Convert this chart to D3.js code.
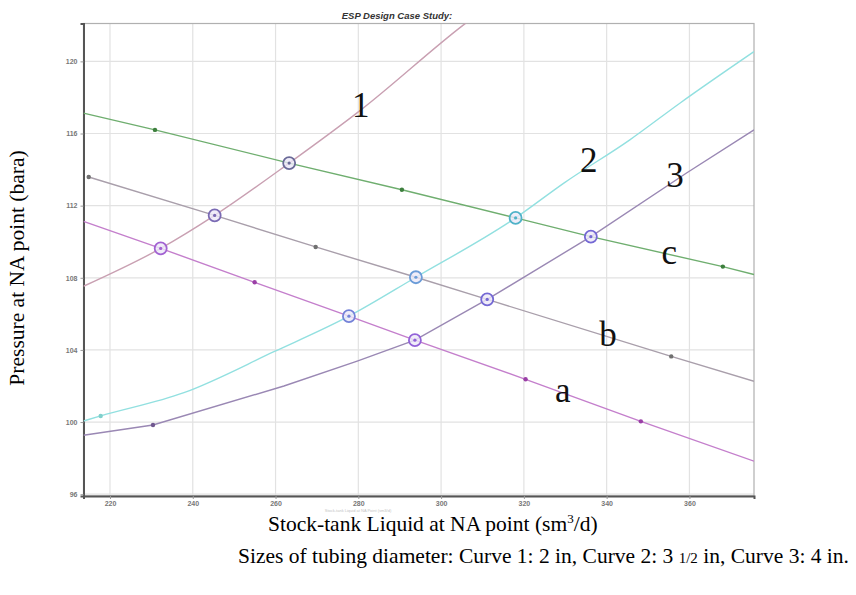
<!DOCTYPE html>
<html><head><meta charset="utf-8">
<script src="https://cdn.jsdelivr.net/npm/d3@7"></script>
<style>body{margin:0;background:#fff}svg{display:block}</style>
</head><body><svg id="c" width="856" height="595"></svg>
<script>
// ---- data (stock-tank liquid sm3/d, pressure bara) ----
const xTicks=[220,240,260,280,300,320,340,360];
const yTicks=[96,100,104,108,112,116,120];
const curve1Q=[213.6,232.25,245.29,263.29,280.63,305.34,308.2];
const curve1P=[107.53,109.63,111.46,114.36,117.31,122.01,122.51];
const curve2Q=[213.6,217.75,237.87,259.61,277.73,293.91,318.0,329.66,345.6,357.68,375.6];
const curve2P=[100.06,100.34,101.63,103.9,105.87,108.03,111.32,113.25,115.65,117.68,120.54];
const curve3Q=[213.6,230.39,262.03,279.73,293.67,311.14,336.18,359.3,375.6];
const curve3P=[99.27,99.84,102.0,103.38,104.54,106.80,110.28,113.81,116.20];
const lineAQ=[213.6,232.25,254.95,277.73,293.67,320.41,348.26,375.6];
const lineAP=[111.13,109.63,107.75,105.87,104.54,102.37,100.04,97.83];
const lineBQ=[214.86,245.29,269.69,293.91,311.14,355.6,375.6];
const lineBP=[113.59,111.46,109.71,108.03,106.80,103.64,102.26];
const lineCQ=[213.6,230.87,263.29,290.53,318.0,336.18,368.07,375.6];
const lineCP=[117.13,116.20,114.36,112.88,111.32,110.28,108.62,108.18];
const dotsAQ=[254.95,320.41,348.26], dotsAP=[107.75,102.37,100.04];
const dotsBQ=[214.86,269.69,355.6], dotsBP=[113.59,109.71,103.64];
const dotsCQ=[230.87,290.53,368.07], dotsCP=[116.20,112.88,108.62];
const dots2Q=[217.75], dots2P=[100.34];
const dots3Q=[230.39], dots3P=[99.84];
const interQ=[263.29,245.29,232.25,318.0,293.91,277.73,336.18,311.14,293.67];
const interP=[114.36,111.46,109.63,111.32,108.03,105.87,110.28,106.80,104.54];
const labelText=["1","2","3","a","b","c"];
const labelQ=[280.6,335.7,356.5,329.4,340.3,355.1];
const labelP=[116.92,113.88,113.05,101.10,104.19,108.79];
const titleText="ESP Design Case Study:";
const yTitle="Pressure at NA point (bara)";
const caption1="Sizes of tubing diameter: Curve 1: 2 in, Curve 2: 3 ";
const caption2=" in, Curve 3: 4 in.";

// ---- styles ----
const L=83.5,R=754,T=23.5,B=496;
const svg=d3.select("#c");
const x=d3.scaleLinear().domain([213.6,375.6]).range([L,R]);
const y=d3.scaleLinear().domain([95.9,122.1]).range([B,T]);

svg.append("defs").append("clipPath").attr("id","clip")
  .append("rect").attr("x",L).attr("y",T).attr("width",R-L).attr("height",B-T);

// grid
svg.append("g").selectAll("line").data(xTicks).join("line")
  .attr("x1",d=>x(d)).attr("x2",d=>x(d)).attr("y1",T).attr("y2",B)
  .attr("stroke","#e2e2e2").attr("stroke-width",1.2);
svg.append("g").selectAll("line").data(yTicks).join("line")
  .attr("y1",d=>y(d)).attr("y2",d=>y(d)).attr("x1",L).attr("x2",R)
  .attr("stroke","#e2e2e2").attr("stroke-width",1.2);

// frame
svg.append("rect").attr("x",L).attr("y",T).attr("width",R-L).attr("height",B-T)
  .attr("fill","none").attr("stroke","#b0b0b0").attr("stroke-width",1.2);

// axes
const ax=svg.append("g").attr("transform",`translate(0,${B})`)
  .call(d3.axisBottom(x).tickValues(xTicks).tickSize(3).tickFormat(d3.format("d")));
const ay=svg.append("g").attr("transform",`translate(${L},0)`)
  .call(d3.axisLeft(y).tickValues(yTicks).tickSize(3).tickFormat(d3.format("d")));
[ax,ay].forEach(g=>{
  g.select(".domain").attr("stroke","#555").attr("stroke-width",2);
  g.selectAll(".tick line").attr("stroke","#999");
  g.selectAll(".tick text").attr("fill","#777").attr("font-size",7)
   .attr("font-family","Liberation Sans, Arial, sans-serif").attr("font-weight","bold");
});
ax.selectAll(".tick text").attr("dy","0.6em");

// faint axis title (partly hidden in the original)
svg.append("text").attr("x",358).attr("y",511.5).attr("text-anchor","middle")
  .attr("font-family","Liberation Sans, Arial").attr("font-size",4).attr("fill","#c4c4c4")
  .text("Stock-tank Liquid at NA Point (sm3/d)");

// title
svg.append("text").attr("x",397).attr("y",19).attr("text-anchor","middle")
  .attr("font-family","Liberation Sans, Arial, sans-serif").attr("font-size",9.5)
  .attr("font-weight","bold").attr("font-style","italic").attr("fill","#333").text(titleText);

// lines
const plot=svg.append("g").attr("clip-path","url(#clip)");
const series=[
  {q:lineCQ,p:lineCP,c:"#6fae6f",curve:d3.curveLinear},
  {q:lineBQ,p:lineBP,c:"#a99fab",curve:d3.curveLinear},
  {q:lineAQ,p:lineAP,c:"#c47fcc",curve:d3.curveLinear},
  {q:curve1Q,p:curve1P,c:"#c9a0b2",curve:d3.curveMonotoneX},
  {q:curve2Q,p:curve2P,c:"#92e0e0",curve:d3.curveMonotoneX},
  {q:curve3Q,p:curve3P,c:"#9a88b4",curve:d3.curveLinear}
];
series.forEach(s=>{
  const pts=s.q.map((v,i)=>[v,s.p[i]]);
  plot.append("path").datum(pts)
    .attr("d",d3.line().x(d=>x(d[0])).y(d=>y(d[1])).curve(s.curve))
    .attr("fill","none").attr("stroke",s.c).attr("stroke-width",1.4);
});

// dots
const dotSets=[
  {q:dotsAQ,p:dotsAP,c:"#9a3fa6"},
  {q:dotsBQ,p:dotsBP,c:"#707070"},
  {q:dotsCQ,p:dotsCP,c:"#3d7f3d"},
  {q:dots2Q,p:dots2P,c:"#80d0cc"},
  {q:dots3Q,p:dots3P,c:"#705890"}
];
dotSets.forEach(s=>{
  plot.append("g").selectAll("circle").data(s.q.map((v,i)=>[v,s.p[i]])).join("circle")
    .attr("cx",d=>x(d[0])).attr("cy",d=>y(d[1])).attr("r",2.2).attr("fill",s.c);
});

// intersection rings
const ringColors=["#6a6a98","#7a6ab4","#a262d2","#4fb2c8","#6b9cd8","#7482d8","#7468d4","#7468d4","#9262d8"];
const rings=plot.append("g").selectAll("g").data(interQ.map((v,i)=>[v,interP[i],i])).join("g")
  .attr("transform",d=>`translate(${x(d[0])},${y(d[1])})`);
rings.append("circle").attr("r",6).attr("fill","#ece8f8").attr("fill-opacity",0.8)
  .attr("stroke",d=>ringColors[d[2]]).attr("stroke-width",1.8);
rings.append("circle").attr("r",1.6).attr("fill",d=>ringColors[d[2]]);

// curve labels
svg.append("g").selectAll("text").data(labelText).join("text")
  .attr("x",(d,i)=>x(labelQ[i])).attr("y",(d,i)=>y(labelP[i])).attr("text-anchor","middle")
  .attr("font-family","Liberation Serif, Times New Roman, serif").attr("font-size",35)
  .attr("fill","#111").text(d=>d);

// axis titles
svg.append("text").attr("transform","translate(24,268) rotate(-90)").attr("text-anchor","middle")
  .attr("font-family","Liberation Serif, Times New Roman, serif").attr("font-size",21.5)
  .attr("fill","#000").text(yTitle);
const xt=svg.append("text").attr("x",268).attr("y",531)
  .attr("font-family","Liberation Serif, Times New Roman, serif").attr("font-size",21.5).attr("fill","#000");
xt.append("tspan").text("Stock-tank Liquid at NA point (sm");
xt.append("tspan").attr("font-size",13).attr("dy",-8).text("3");
xt.append("tspan").attr("dy",8).text("/d)");
const cap=svg.append("text").attr("x",238).attr("y",563)
  .attr("font-family","Liberation Serif, Times New Roman, serif").attr("font-size",21.5).attr("fill","#000");
cap.append("tspan").text(caption1);
cap.append("tspan").attr("font-size",15).text("1/2");
cap.append("tspan").text(caption2);
</script></body></html>
